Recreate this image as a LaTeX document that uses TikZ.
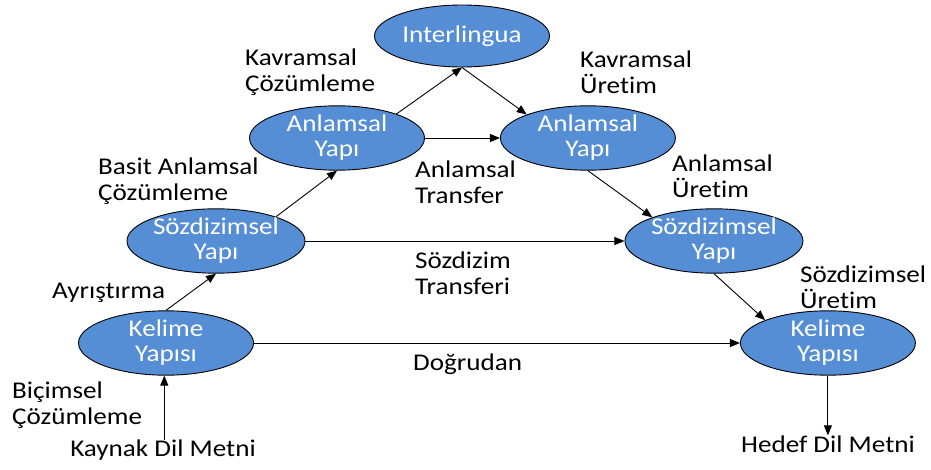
\documentclass[tikz,border=0pt]{standalone}
\usepackage{fontspec}
\setmainfont{Carlito}[FakeStretch=1.13, Ligatures=NoCommon]
\usetikzlibrary{positioning, arrows.meta, shapes.geometric}
\definecolor{MTblue}{RGB}{85, 142, 213}
\tikzset{
  yapi/.style={ellipse, draw=black, line width=0.9pt, fill=MTblue, text=white,
    minimum width=175pt, minimum height=62pt, inner sep=0pt, align=center,
    font=\fontsize{24}{25}\selectfont},
  lbl/.style={anchor=west, align=left, inner sep=0pt, font=\fontsize{24}{26}\selectfont},
  flow/.style={-{Triangle[length=10pt, width=8pt]}, line width=0.9pt, black},
}
\begin{document}
\begin{tikzpicture}[x=1pt, y=-1pt]
    \useasboundingbox (0,0) rectangle (931,470);
    \node[yapi] (il) at (462,36) {Interlingua};
    \node[yapi] (aL) at (337,138) {Anlamsal\\Yapı};
    \node[yapi, right=75pt of aL] (aR) {Anlamsal\\Yapı};
    \node[yapi] (sL) at (216,241) {Sözdizimsel\\Yapı};
    \node[yapi, right=319pt of sL] (sR) {Sözdizimsel\\Yapı};
    \node[yapi] (kL) at (166,343) {Kelime\\Yapısı};
    \node[yapi, right=486pt of kL] (kR) {Kelime\\Yapısı};
    \node[lbl, anchor=center] (src) at (163,450) {Kaynak Dil Metni};
    \node[lbl, anchor=center] (tgt) at (828,444) {Hedef Dil Metni};
    \node[lbl] (kc) at (245,72) {Kavramsal\\Çözümleme};
    \node[lbl] (ku) at (580,72) {Kavramsal\\Üretim};
    \node[lbl] (bac) at (98,181) {Basit Anlamsal\\Çözümleme};
    \node[lbl] (at) at (415,182) {Anlamsal\\Transfer};
    \node[lbl] (au) at (672,176) {Anlamsal\\Üretim};
    \node[lbl] (ay) at (52,293) {Ayrıştırma};
    \node[lbl] (st) at (415,273) {Sözdizim\\Transferi};
    \node[lbl] (su) at (800,287) {Sözdizimsel\\Üretim};
    \node[lbl] (dg) at (413,364) {Doğrudan};
    \node[lbl] (bc) at (12,405) {Biçimsel\\Çözümleme};
    \draw[flow] (src.north -| kL.-93)-- (kL.-93);
    \draw[flow] (kL.north)-- (sL.south); \draw[flow] (sL.22)-- (aL.south);
    \draw[flow] (aL.22)-- (il.south); \draw[flow] (il.south)-- (aR.159);
    \draw[flow] (aR.south)-- (sR.159); \draw[flow] (sR.south)-- (kR.160);
    \draw[flow] (aL)-- (aR); \draw[flow] (sL)-- (sR); \draw[flow] (kL)-- (kR);
    \draw[flow] (kR.south)-- (tgt.north -| kR.south);
  \end{tikzpicture}
\end{document}
